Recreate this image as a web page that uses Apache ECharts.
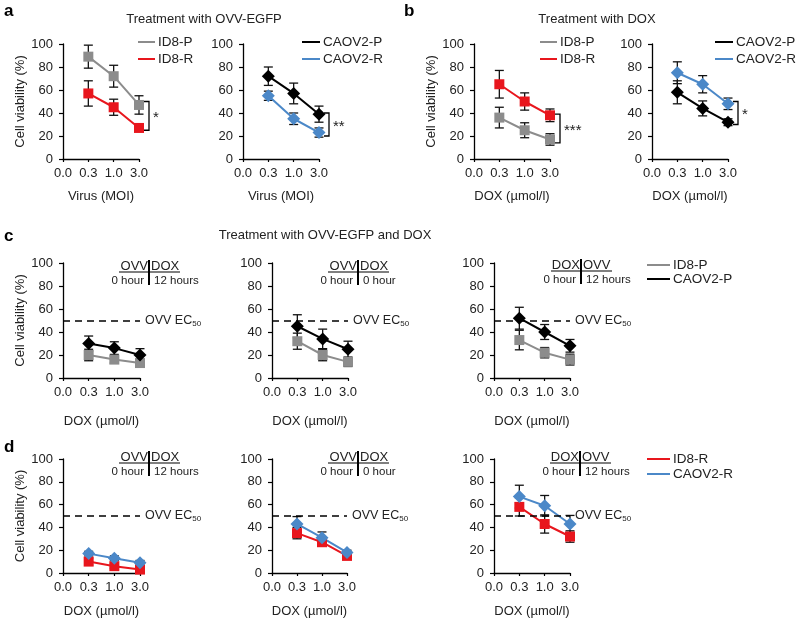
<!DOCTYPE html>
<html><head><meta charset="utf-8">
<script src="https://cdn.jsdelivr.net/npm/echarts@6/dist/echarts.min.js"></script>
<style>html,body{margin:0;padding:0;background:#fff}#c{width:800px;height:622px}</style>
</head><body><div id="c"></div>
<script>
// ---------- data ----------
const cats = ['0.0', '0.3', '1.0', '3.0'];
const yTicks = [0, 20, 40, 60, 80, 100];
// panel a (virus)
const aL_ID8P = [null, 89, 72, 47];   const aL_ID8P_err = [null, 10, 9.5, 8];
const aL_ID8R = [null, 57, 45, 27];   const aL_ID8R_err = [null, 11, 7, 3];
const aR_CAOP = [null, 72, 57, 39];   const aR_CAOP_err = [null, 8, 9, 7];
const aR_CAOR = [null, 55, 35, 23];   const aR_CAOR_err = [null, 4, 5, 4];
// panel b (DOX)
const bL_ID8P = [null, 36, 25, 17];   const bL_ID8P_err = [null, 9, 6.5, 5];
const bL_ID8R = [null, 65, 50, 38];   const bL_ID8R_err = [null, 12, 7.5, 5.5];
const bR_CAOP = [null, 58, 44, 32];   const bR_CAOP_err = [null, 10, 6.5, 3];
const bR_CAOR = [null, 75, 65, 48];   const bR_CAOR_err = [null, 9.5, 7.5, 5];
// panel c (parental, combination)
const c1_ID8P = [null, 20, 16, 13];   const c1_ID8P_err = [null, 5, 3, 2];
const c1_CAOP = [null, 30, 26, 20];   const c1_CAOP_err = [null, 6.5, 5.5, 5.5];
const c2_ID8P = [null, 32, 20, 14];   const c2_ID8P_err = [null, 7, 5, 4];
const c2_CAOP = [null, 45, 34, 25];   const c2_CAOP_err = [null, 10, 8.5, 7];
const c3_ID8P = [null, 33, 22, 16];   const c3_ID8P_err = [null, 8.5, 4.5, 4.7];
const c3_CAOP = [null, 52, 40, 28];   const c3_CAOP_err = [null, 9.5, 6.5, 5.5];
// panel d (resistant, combination)
const d1_ID8R = [null, 10, 6, 3];     const d1_ID8R_err = [null, 3, 2, 2];
const d1_CAOR = [null, 17, 13, 9];    const d1_CAOR_err = [null, 2, 2, 2];
const d2_ID8R = [null, 35, 27, 15];   const d2_ID8R_err = [null, 5, 3.5, 2];
const d2_CAOR = [null, 43, 31, 18];   const d2_CAOR_err = [null, 6.5, 5, 2];
const d3_ID8R = [null, 58, 43, 32];   const d3_ID8R_err = [null, 8, 8, 5];
const d3_CAOR = [null, 67, 59, 43];   const d3_CAOR_err = [null, 10, 9, 7.5];
// EC50 reference and significance brackets
const ec50 = 50;
const bracketA_L = [50, 25]; const bracketA_R = [40, 20];
const bracketB_L = [39, 14]; const bracketB_R = [50, 30];
const starsA_L = '*', starsA_R = '**', starsB_L = '***', starsB_R = '*';

// ---------- style ----------
const FONT = "'Liberation Sans', Arial, Helvetica, sans-serif";
const TXT = '#222';
const COL = { 'ID8-P': '#8c8c8c', 'ID8-R': '#e8161d', 'CAOV2-P': '#000000', 'CAOV2-R': '#4b88c8' };

const grids = [
  { left: 63, top: 44, width: 76, height: 115 },   // 0 a-left
  { left: 243, top: 44, width: 76, height: 115 },  // 1 a-right
  { left: 474, top: 44, width: 76, height: 115 },  // 2 b-left
  { left: 652, top: 44, width: 76, height: 115 },  // 3 b-right
  { left: 63, top: 263, width: 77, height: 115 },  // 4 c-1
  { left: 272, top: 263, width: 76, height: 115 }, // 5 c-2
  { left: 494, top: 263, width: 76, height: 115 }, // 6 c-3
  { left: 63, top: 459, width: 77, height: 114 },  // 7 d-1
  { left: 272, top: 459, width: 75, height: 114 }, // 8 d-2
  { left: 494, top: 459, width: 76, height: 114 }  // 9 d-3
];
const xNames = ['Virus (MOI)', 'Virus (MOI)', 'DOX (\u00b5mol/l)', 'DOX (\u00b5mol/l)',
  'DOX (\u00b5mol/l)', 'DOX (\u00b5mol/l)', 'DOX (\u00b5mol/l)', 'DOX (\u00b5mol/l)', 'DOX (\u00b5mol/l)', 'DOX (\u00b5mol/l)'];
const xGaps = [31, 31, 31, 31, 37, 37, 37, 32, 32, 32];
const yNamed = [true, false, true, false, true, false, false, true, false, false];

const xAxis = grids.map((g, i) => ({
  type: 'category', gridIndex: i, data: cats, boundaryGap: false,
  name: xNames[i], nameLocation: 'middle', nameGap: xGaps[i],
  nameTextStyle: { fontSize: 13, color: TXT, fontFamily: FONT },
  axisLine: { lineStyle: { color: '#000', width: 1.3 } },
  axisTick: { show: true, length: 3, lineStyle: { color: '#000', width: 1.2 } },
  axisLabel: { fontSize: 13, color: TXT, fontFamily: FONT, margin: 8, interval: 0 },
  splitLine: { show: false }
}));
const yAxis = grids.map((g, i) => ({
  type: 'value', gridIndex: i, min: 0, max: 100, interval: 20,
  name: yNamed[i] ? 'Cell viability (%)' : '', nameLocation: 'middle', nameGap: 34, nameRotate: 90,
  nameTextStyle: { fontSize: 13, color: TXT, fontFamily: FONT },
  axisLine: { show: true, lineStyle: { color: '#000', width: 1.3 } },
  axisTick: { show: true, length: 4, lineStyle: { color: '#000', width: 1.2 } },
  axisLabel: { fontSize: 13, color: TXT, fontFamily: FONT, margin: 10,
    formatter: v => yTicks.includes(v) ? String(v) : '' },
  splitLine: { show: false }
}));

const series = [];
function addLine(gi, name, vals, errs, withEC) {
  const isID8 = name.startsWith('ID8');
  const s = {
    type: 'line', name, xAxisIndex: gi, yAxisIndex: gi, data: vals, z: 3,
    symbol: isID8 ? 'rect' : 'diamond', symbolSize: isID8 ? 10 : 13,
    itemStyle: { color: COL[name] }, lineStyle: { color: COL[name], width: 2 },
    showSymbol: true, connectNulls: false, animation: false
  };
  if (withEC) {
    s.markLine = {
      silent: true, symbol: ['none', 'none'], animation: false,
      lineStyle: { color: '#000', type: [7, 5], width: 1.6 },
      label: { show: true, position: 'end', distance: 5, formatter: '{n|OVV EC}{s|50}',
        rich: { n: { fontSize: 12.5, color: TXT, fontFamily: FONT, lineHeight: 14 },
                s: { fontSize: 8, color: TXT, fontFamily: FONT, verticalAlign: 'bottom', lineHeight: 10, padding: [6, 0, 0, 0] } } },
      data: [{ yAxis: ec50 }]
    };
  }
  series.push(s);
  series.push({
    type: 'custom', xAxisIndex: gi, yAxisIndex: gi, z: 2, silent: true, animation: false,
    data: vals.map((v, i) => v == null ? null : [i, v, errs[i]]).filter(d => d),
    encode: { x: 0, y: 1 },
    renderItem: (params, api) => {
      const i = api.value(0), v = api.value(1), e = api.value(2);
      const t = api.coord([i, v + e]), b = api.coord([i, v - e]);
      const st = { stroke: '#111', lineWidth: 1.3 };
      return { type: 'group', children: [
        { type: 'line', shape: { x1: t[0], y1: t[1], x2: b[0], y2: b[1] }, style: st },
        { type: 'line', shape: { x1: t[0] - 4.5, y1: t[1], x2: t[0] + 4.5, y2: t[1] }, style: st },
        { type: 'line', shape: { x1: b[0] - 4.5, y1: b[1], x2: b[0] + 4.5, y2: b[1] }, style: st }
      ] };
    }
  });
}
function addBracket(gi, br, stars) {
  series.push({
    type: 'custom', xAxisIndex: gi, yAxisIndex: gi, z: 4, silent: true, animation: false,
    data: [[3, br[0], br[1]]], encode: { x: 0, y: 1 },
    renderItem: (params, api) => {
      const t = api.coord([api.value(0), api.value(1)]), b = api.coord([api.value(0), api.value(2)]);
      const x = t[0] + 10;
      return { type: 'group', children: [
        { type: 'polyline', shape: { points: [[x - 5, t[1]], [x, t[1]], [x, b[1]], [x - 5, b[1]]] },
          style: { stroke: '#000', lineWidth: 1.3, fill: null } },
        { type: 'text', style: { text: stars, x: x + 4, y: (t[1] + b[1]) / 2 + 2, align: 'left',
          verticalAlign: 'middle', font: '15px ' + FONT, fill: TXT } }
      ] };
    }
  });
}

addLine(0, 'ID8-P', aL_ID8P, aL_ID8P_err);
addLine(0, 'ID8-R', aL_ID8R, aL_ID8R_err);
addBracket(0, bracketA_L, starsA_L);
addLine(1, 'CAOV2-P', aR_CAOP, aR_CAOP_err);
addLine(1, 'CAOV2-R', aR_CAOR, aR_CAOR_err);
addBracket(1, bracketA_R, starsA_R);
addLine(2, 'ID8-P', bL_ID8P, bL_ID8P_err);
addLine(2, 'ID8-R', bL_ID8R, bL_ID8R_err);
addBracket(2, bracketB_L, starsB_L);
addLine(3, 'CAOV2-P', bR_CAOP, bR_CAOP_err);
addLine(3, 'CAOV2-R', bR_CAOR, bR_CAOR_err);
addBracket(3, bracketB_R, starsB_R);
addLine(4, 'ID8-P', c1_ID8P, c1_ID8P_err, true);
addLine(4, 'CAOV2-P', c1_CAOP, c1_CAOP_err);
addLine(5, 'ID8-P', c2_ID8P, c2_ID8P_err, true);
addLine(5, 'CAOV2-P', c2_CAOP, c2_CAOP_err);
addLine(6, 'ID8-P', c3_ID8P, c3_ID8P_err, true);
addLine(6, 'CAOV2-P', c3_CAOP, c3_CAOP_err);
addLine(7, 'ID8-R', d1_ID8R, d1_ID8R_err, true);
addLine(7, 'CAOV2-R', d1_CAOR, d1_CAOR_err);
addLine(8, 'ID8-R', d2_ID8R, d2_ID8R_err, true);
addLine(8, 'CAOV2-R', d2_CAOR, d2_CAOR_err);
addLine(9, 'ID8-R', d3_ID8R, d3_ID8R_err, true);
addLine(9, 'CAOV2-R', d3_CAOR, d3_CAOR_err);

function legend(left, top, names, gap, w) {
  return { left, top, padding: 0, orient: 'vertical', itemGap: gap, icon: 'rect', itemWidth: w, itemHeight: 2,
    selectedMode: false, data: names,
    textStyle: { fontSize: 13.5, color: TXT, fontFamily: FONT, padding: [0, 0, 0, -2] } };
}
const legends = [
  legend(138, 35, ['ID8-P', 'ID8-R'], 3, 17),
  legend(302, 35, ['CAOV2-P', 'CAOV2-R'], 3, 18),
  legend(540, 35, ['ID8-P', 'ID8-R'], 3, 17),
  legend(715, 35, ['CAOV2-P', 'CAOV2-R'], 3, 18),
  legend(647, 258, ['ID8-P', 'CAOV2-P'], 0, 23),
  legend(647, 452, ['ID8-R', 'CAOV2-R'], 1, 23)
];

function txt(x, y, text, size, align, extra) {
  return { type: 'text', x, y, silent: true,
    style: { text, font: (extra && extra.bold ? 'bold ' : '') + size + 'px ' + FONT, fill: extra && extra.fill || TXT,
      align: align || 'left', verticalAlign: 'middle' } };
}
function ln(x1, y1, x2, y2, w) {
  return { type: 'line', silent: true, shape: { x1, y1, x2, y2 }, style: { stroke: '#000', lineWidth: w || 1.2 } };
}
function inset(cx, cy, l, r, lt, rt) {
  return [
    ln(cx - 30, cy, cx + 31, cy, 1.2),
    ln(cx, cy - 12, cx, cy + 13, 2),
    txt(cx - 1, cy - 6, l, 13, 'right'),
    txt(cx + 2, cy - 6, r, 13, 'left'),
    txt(cx - 5, cy + 9, lt, 11.5, 'right'),
    txt(cx + 5, cy + 9, rt, 11.5, 'left')
  ];
}
const graphics = [
  txt(4, 11, 'a', 17, 'left', { bold: true, fill: '#000' }),
  txt(404, 11, 'b', 17, 'left', { bold: true, fill: '#000' }),
  txt(4, 236, 'c', 17, 'left', { bold: true, fill: '#000' }),
  txt(4, 447, 'd', 17, 'left', { bold: true, fill: '#000' }),
  txt(204, 19, 'Treatment with OVV-EGFP', 13, 'center'),
  txt(597, 19, 'Treatment with DOX', 13, 'center'),
  txt(325, 235, 'Treatment with OVV-EGFP and DOX', 13, 'center'),
  ...inset(149, 272, 'OVV', 'DOX', '0 hour', '12 hours'),
  ...inset(358, 272, 'OVV', 'DOX', '0 hour', '0 hour'),
  ...inset(581, 271, 'DOX', 'OVV', '0 hour', '12 hours'),
  ...inset(149, 463, 'OVV', 'DOX', '0 hour', '12 hours'),
  ...inset(358, 463, 'OVV', 'DOX', '0 hour', '0 hour'),
  ...inset(580, 463, 'DOX', 'OVV', '0 hour', '12 hours')
];

const chart = echarts.init(document.getElementById('c'), null, { renderer: 'canvas' });
chart.setOption({
  backgroundColor: '#fff', animation: false,
  grid: grids, xAxis, yAxis, series, legend: legends, graphic: graphics
});
</script></body></html>
